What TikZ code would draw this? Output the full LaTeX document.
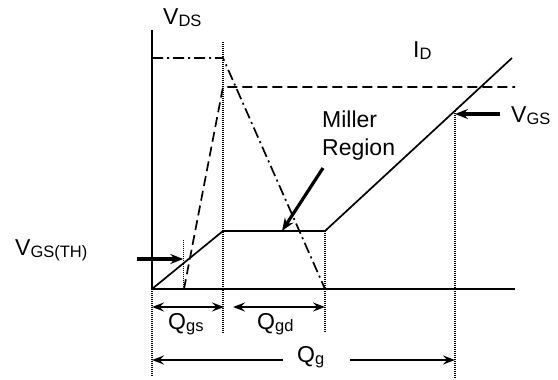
\documentclass[tikz,border=0pt]{standalone}
\usepackage{fontspec}
\setmainfont{Liberation Sans}
\usetikzlibrary{arrows.meta,calc}
\newcommand{\subs}[1]{\raisebox{-2.5pt}{\fontsize{16.5}{18}\selectfont #1}}
\begin{document}
\begin{tikzpicture}[x=1pt,y=-1pt,
  axisline/.style={line width=1.7pt},
  curve/.style={line width=1.7pt},
  guide/.style={line width=1.4pt, dash pattern=on 1pt off 1pt},
  vdsline/.style={curve, dash pattern=on 11pt off 4pt on 2pt off 4pt},
  idline/.style={curve, dash pattern=on 10pt off 5pt},
  pointer/.style={line width=3.2pt, -{Stealth[length=13pt,width=10pt,inset=4.5pt]}},
  dimarrow/.style={line width=2.4pt, {Stealth[length=12pt,width=9pt,inset=4.5pt]}-{Stealth[length=12pt,width=9pt,inset=4.5pt]}},
  onearrow/.style={line width=2.4pt, -{Stealth[length=12pt,width=9pt,inset=4.5pt]}},
  lbl/.style={font=\fontsize{23}{28}\selectfont, inner sep=0pt, anchor=base west}]
\useasboundingbox (0,0) rectangle (558,380);
% key points
\coordinate (O) at (152,289);
\coordinate (Ytop) at (152,30);
\coordinate (Xend) at (515,289);
\coordinate (Vs) at (152,58);
\coordinate (Vtop) at (223,58);
\coordinate (Vend) at (325,289);
\coordinate (Is) at (184,289);
\coordinate (Itop) at (223,87);
\coordinate (Iend) at (515,87);
\coordinate (P1) at (223,231);
\coordinate (P2) at (325,231);
\coordinate (P3) at (512,58);
\coordinate (G) at ($(P2)!0.695!(P3)$);
\coordinate (T) at ($(O)!0.44!(P1)$);
% guides
\coordinate (g1a) at (223,42); \coordinate (g1b) at (223,333);
\coordinate (g0b) at (152,377);
\coordinate (g2b) at (325,333);
\coordinate (g3b) at (G |- 0,377);
\coordinate (gta) at (T |- 0,240); \coordinate (gtb) at (T |- O);
\draw[guide] (g1a) -- (g1b);
\draw[guide] (O) -- (g0b);
\draw[guide] (P2) -- (g2b);
\draw[guide] (G) -- (g3b);
\draw[guide] (gta) -- (gtb);
% axes
\draw[axisline] (Ytop) -- (O) -- (Xend);
% curves
\draw[vdsline] (Vs) -- (Vtop) -- (Vend);
\draw[idline] (Is) -- (Itop) -- (Iend);
\draw[curve, line join=round] (O) -- (P1) -- (P2) -- (P3);
% labels
\node[lbl] (lvds) at (163,24) {V\subs{DS}};
\node[lbl] (lid) at (413,57) {I\subs{D}};
\node[lbl] (lmiller) at (322,127) {Miller};
\node[lbl] (lregion) at (322,155) {Region};
\node[lbl] (lvgs) at (511,122) {V\subs{GS}};
\node[lbl] (lvth) at (15,255) {V\subs{GS(TH)}};
% pointers
\coordinate (ma) at (323,168);
\coordinate (mb) at (282,231);
\draw[pointer] (ma) -- (mb);
\coordinate (va) at (500,114);
\draw[pointer] (va) -- (G |- va);
\coordinate (ta) at (137,259);
\draw[pointer] (ta) -- (T |- ta);
% dimensions
\coordinate (d1a) at (152,307); \coordinate (d1b) at (224,307);
\coordinate (d2a) at (233,307); \coordinate (d2b) at (325,307);
\draw[dimarrow] (d1a) -- (d1b);
\draw[dimarrow] (d2a) -- (d2b);
\node[lbl] (lqgs) at (168,329) {Q\subs{gs}};
\node[lbl] (lqgd) at (257,329) {Q\subs{gd}};
\node[lbl] (lqg) at (297,362) {Q\subs{g}};
\coordinate (d3a) at (283,360); \coordinate (d3l) at (152,360);
\coordinate (d3b) at (350,360); \coordinate (d3r) at (455,360);
\draw[onearrow] (d3a) -- (d3l);
\draw[onearrow] (d3b) -- (d3r);
\end{tikzpicture}
\end{document}
